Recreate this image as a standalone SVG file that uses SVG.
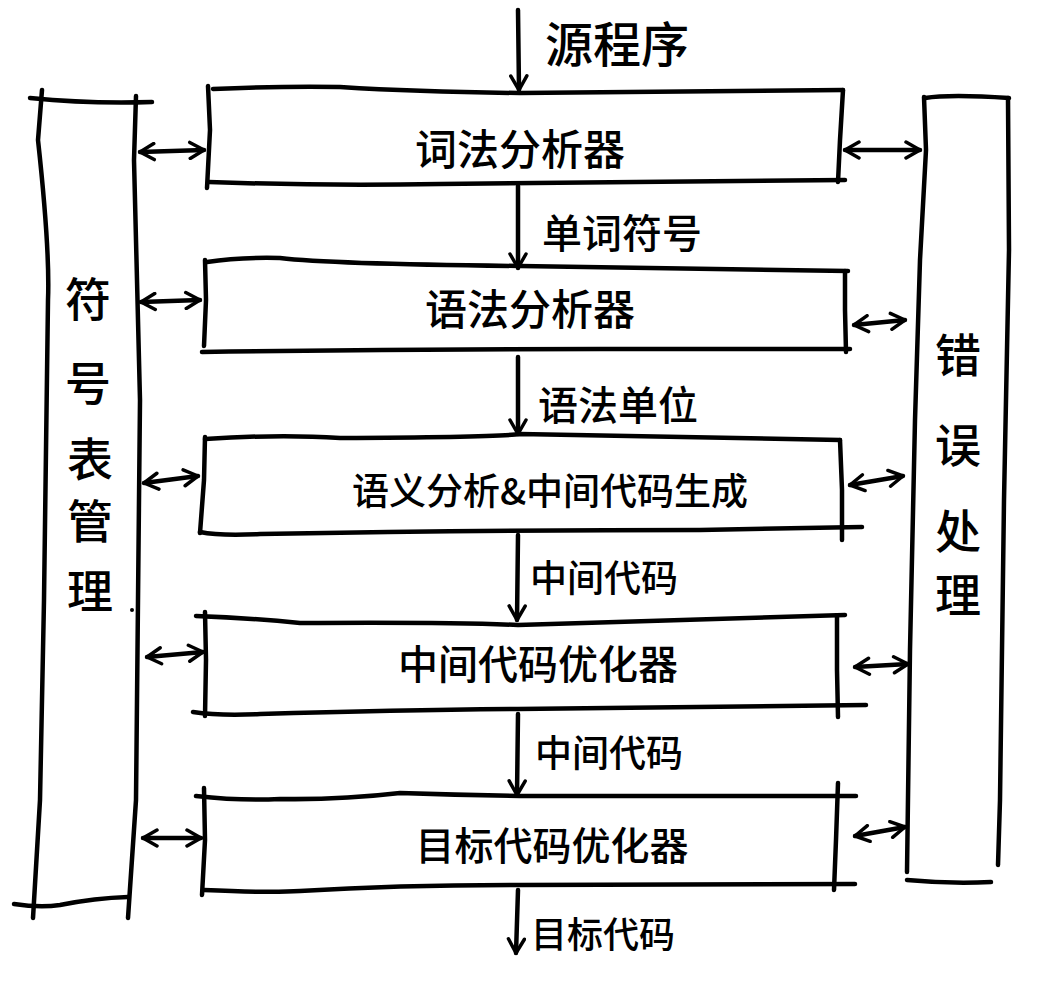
<svg xmlns="http://www.w3.org/2000/svg" width="1039" height="985" viewBox="0 0 1039 985">
<style>
.s{fill:none;stroke:#000;stroke-width:4.5;stroke-linecap:round;stroke-linejoin:round}
.t{font-family:"Noto Sans CJK SC","Noto Sans",sans-serif;fill:#000;font-weight:500}
.n{font-size:42px;text-anchor:middle}
.e{font-size:40px}
.c{font-size:46px;text-anchor:middle}
</style>
<defs>
<marker id="ah" viewBox="0 0 20 20" refX="18" refY="10" markerWidth="20" markerHeight="20" markerUnits="userSpaceOnUse" orient="auto-start-reverse">
<path d="M4,2 L18,10 L4,18" fill="none" stroke="#000" stroke-width="3.5" stroke-linecap="round" stroke-linejoin="round"/>
</marker>
</defs>
<rect width="1039" height="985" fill="#fff"/>
<g id="symtab">
<path class="s" d="M30,98 Q90,104 152,102"/>
<path class="s" d="M42,90 L38,140 Q50,250 48,300 L44,600 L40,800 L33,918"/>
<path class="s" d="M136,96 L134,160 L140,400 L138,600 L136,800 L128,918"/>
<path class="s" d="M14,904 Q40,908 60,905 Q95,898 128,897"/>
<text class="t c" x="88" y="316">符</text>
<text class="t c" x="88" y="400">号</text>
<text class="t c" x="90" y="476">表</text>
<text class="t c" x="90" y="538">管</text>
<text class="t c" x="90" y="608">理</text>
<circle cx="132" cy="610" r="2" fill="#000"/>
</g>
<g id="errproc">
<path class="s" d="M925,98 Q950,94 1009,98"/>
<path class="s" d="M924,97 L926,150 L920,260 L915,420 L910,650 L907,872"/>
<path class="s" d="M1008,98 L1009,250 L1004,500 L1000,800 L998,865"/>
<path class="s" d="M907,880 Q950,884 991,882"/>
<text class="t c" x="958" y="372">错</text>
<text class="t c" x="958" y="462">误</text>
<text class="t c" x="958" y="548">处</text>
<text class="t c" x="958" y="612">理</text>
</g>
<g id="lexer">
<path class="s" d="M213,89 Q280,86 340,87 Q420,92 520,93 L843,90"/>
<path class="s" d="M208,86 L210,130 L207,188"/>
<path class="s" d="M209,182 Q320,186 440,184 L845,180"/>
<path class="s" d="M843,90 L840,140 L838,182"/>
<text class="t n" x="520" y="165">词法分析器</text>
</g>
<g id="parser">
<path class="s" d="M207,262 Q240,257 280,258 Q330,264 520,266 L848,271"/>
<path class="s" d="M205,260 L206,300 L204,346"/>
<path class="s" d="M202,352 Q400,349 600,349 L850,349"/>
<path class="s" d="M845,271 L845,310 L846,352"/>
<text class="t n" x="530" y="325">语法分析器</text>
</g>
<g id="semantic">
<path class="s" d="M205,439 Q280,434 340,438 Q500,437 520,434 L840,440"/>
<path class="s" d="M205,437 L204,480 L200,533"/>
<path class="s" d="M200,532 Q220,536 260,534 Q500,530 700,530 L862,527"/>
<path class="s" d="M840,440 L842,490 L842,540"/>
<text class="t n" x="550" y="505" style="font-size:37px">语义分析&amp;中间代码生成</text>
</g>
<g id="icopt">
<path class="s" d="M196,616 Q250,618 300,623 Q450,622 518,625 L845,615"/>
<path class="s" d="M205,612 L206,660 L205,716"/>
<path class="s" d="M193,712 Q220,716 260,714 Q400,710 518,709 L866,705"/>
<path class="s" d="M837,616 L837,670 L838,717"/>
<text class="t n" x="538" y="679" style="font-size:40px">中间代码优化器</text>
</g>
<g id="tcopt">
<path class="s" d="M196,796 Q240,801 280,799 Q340,800 400,793 Q460,795 520,796 L856,796"/>
<path class="s" d="M204,788 L205,840 L202,895"/>
<path class="s" d="M204,890 Q270,893 300,891 Q400,885 520,885 L855,884"/>
<path class="s" d="M838,783 L836,840 L834,890"/>
<text class="t n" x="552" y="860" style="font-size:39px">目标代码优化器</text>
</g>
<g id="connectors">
<path class="s" d="M518,10 L519,90" marker-end="url(#ah)"/>
<path class="s" d="M518,186 L518,268" marker-end="url(#ah)"/>
<path class="s" d="M518,357 L518,434" marker-end="url(#ah)"/>
<path class="s" d="M518,535 L517,620" marker-end="url(#ah)"/>
<path class="s" d="M518,714 L517,795" marker-end="url(#ah)"/>
<path class="s" d="M518,890 L516,953" marker-end="url(#ah)"/>
<path class="s" d="M140,152 L204,150" marker-start="url(#ah)" marker-end="url(#ah)"/>
<path class="s" d="M141,302 L200,300" marker-start="url(#ah)" marker-end="url(#ah)"/>
<path class="s" d="M144,483 L198,476" marker-start="url(#ah)" marker-end="url(#ah)"/>
<path class="s" d="M147,657 L203,652" marker-start="url(#ah)" marker-end="url(#ah)"/>
<path class="s" d="M143,838 L201,838" marker-start="url(#ah)" marker-end="url(#ah)"/>
<path class="s" d="M845,150 L920,150" marker-start="url(#ah)" marker-end="url(#ah)"/>
<path class="s" d="M854,325 L905,320" marker-start="url(#ah)" marker-end="url(#ah)"/>
<path class="s" d="M850,485 L903,476" marker-start="url(#ah)" marker-end="url(#ah)"/>
<path class="s" d="M855,667 L908,664" marker-start="url(#ah)" marker-end="url(#ah)"/>
<path class="s" d="M855,836 L905,827" marker-start="url(#ah)" marker-end="url(#ah)"/>
<text class="t e" x="545" y="62" style="font-size:48px">源程序</text>
<text class="t e" x="542" y="248">单词符号</text>
<text class="t e" x="538" y="420">语法单位</text>
<text class="t e" x="530" y="592" style="font-size:37px">中间代码</text>
<text class="t e" x="535" y="767" style="font-size:37px">中间代码</text>
<text class="t e" x="531" y="948" style="font-size:36px">目标代码</text>
</g>
</svg>
